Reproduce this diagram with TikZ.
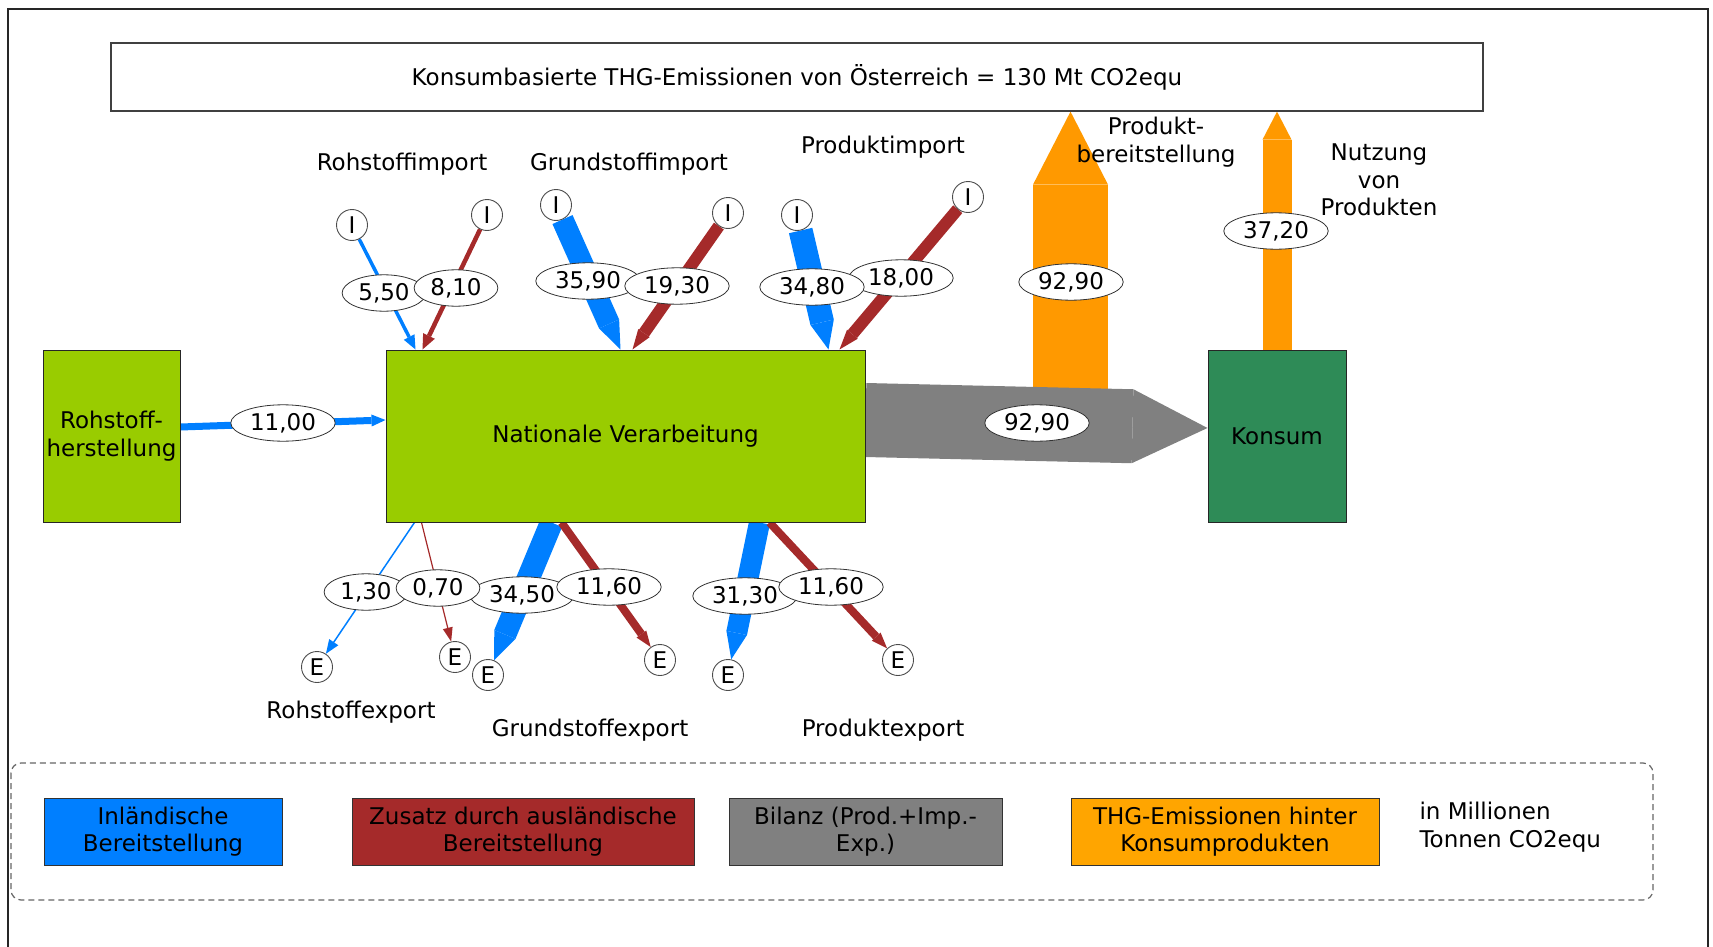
\documentclass[tikz,border=0pt]{standalone}
\usepackage{fontspec}
\setmainfont{DejaVu Sans}
\usetikzlibrary{arrows.meta,shapes.geometric,calc}

\definecolor{inland}{HTML}{007FFF}
\definecolor{ausland}{HTML}{A52A2A}
\definecolor{bilanz}{HTML}{808080}
\definecolor{thg}{HTML}{FF9900}
\definecolor{thglegend}{HTML}{FFA500}
\definecolor{verarb}{HTML}{99CC00}
\definecolor{konsumgr}{HTML}{2E8B57}

\pgfdeclarelayer{flows}
\pgfsetlayers{flows,main}

\tikzset{
  box/.style={draw=black!85, line width=1pt, minimum height=172pt, align=center},
  val/.style={ellipse, draw=black!80, line width=0.8pt, fill=white,
              inner xsep=4pt, inner ysep=3pt},
  port/.style={circle, draw=black!70, line width=0.9pt, fill=white,
               minimum size=31pt, inner sep=0pt},
  lbl/.style={align=center},
  legbox/.style={draw=black!80, line width=1pt, minimum height=67pt, align=center},
  pencil/.style={-{Triangle[length=#1, width=0pt 1, line width=0pt]}},
  head/.style 2 args={-{Triangle[length=#1, width=#2, line width=0pt]}},
}

\begin{document}
\begin{tikzpicture}[x=1pt, y=-1pt, font=\fontsize{23}{27.6}\selectfont, line cap=butt]
\useasboundingbox (0,0) rectangle (1713,947);

% outer frame (open at the bottom)
\draw[line width=1.5pt, black!85] (8,947) -- (8,9) -- (1708,9) -- (1708,947);

% headline
\node[draw=black!75, line width=1.2pt, minimum width=1372pt, minimum height=68pt]
  (title) at (797,77) {Konsumbasierte THG-Emissionen von Österreich = 130 Mt CO2equ};

% process boxes
\node[box, fill=verarb, minimum width=137pt] (RH) at (111.5,436) {Rohstoff-\\herstellung};
\node[box, fill=verarb, minimum width=479pt] (NV) at (625.5,436) {Nationale Verarbeitung};
\node[box, fill=konsumgr, minimum width=138pt] (KO) at (1277,436) {Konsum};

% import and export ports
\node[port] (i1) at (352,225) {I};
\node[port] (i2) at (487,215) {I};
\node[port] (i3) at (556,205) {I};
\node[port] (i4) at (728,213) {I};
\node[port] (i5) at (797,215) {I};
\node[port] (i6) at (968,197) {I};

\node[port] (e1) at (317,667) {E};
\node[port] (e2) at (455,657) {E};
\node[port] (e3) at (488,675) {E};
\node[port] (e4) at (660,660) {E};
\node[port] (e5) at (728,675) {E};
\node[port] (e6) at (898,660) {E};

\begin{pgfonlayer}{flows}
  % emissions behind consumer products
  \coordinate (pb) at (1070.5,425);
  \draw[thg, line width=75pt, pencil=73pt] (pb) -- (pb |- title.south);
  \draw[thg, line width=29pt, pencil=28pt] (KO.north) -- (KO.north |- title.south);
  % balance
  \draw[bilanz, line width=74pt, pencil=75pt] ($(NV.east)+(0,-16)$) -- ($(KO.west)+(0,-8)$);
  % raw material production
  \draw[inland, line width=7pt, head={14pt}{12pt}] ($(RH.east)+(0,-9)$) -- ($(NV.west)+(0,-16)$);
  % imports
  \draw[inland, line width=3.5pt, head={14pt}{12pt}] (i1) -- ($(NV.north west)+(30,0)$);
  \draw[ausland, line width=4.5pt, head={15pt}{13pt}] (i2) -- ($(NV.north west)+(37,0)$);
  \draw[inland, line width=22pt, pencil=28pt] (i3) -- ($(NV.north west)+(235,0)$);
  \draw[ausland, line width=12pt, head={20pt}{14pt}] (i4) -- ($(NV.north west)+(247,0)$);
  \draw[inland, line width=24pt, pencil=28pt] (i5) -- ($(NV.north west)+(443,0)$);
  \draw[ausland, line width=12pt, head={20pt}{14pt}] (i6) -- ($(NV.north west)+(454,0)$);
  % exports
  \draw[inland, line width=1.5pt, head={14pt}{11pt}] ($(NV.south west)+(29,0)$) -- (e1);
  \draw[ausland, line width=1.2pt, head={14pt}{10pt}] ($(NV.south west)+(36,0)$) -- (e2);
  \draw[inland, line width=23pt, pencil=28pt] ($(NV.south west)+(166,0)$) -- (e3);
  \draw[ausland, line width=8pt, head={16pt}{12pt}] ($(NV.south west)+(176,0)$) -- (e4);
  \draw[inland, line width=21pt, pencil=27pt] ($(NV.south west)+(374,0)$) -- (e5);
  \draw[ausland, line width=8pt, head={16pt}{12pt}] ($(NV.south west)+(384,0)$) -- (e6);
\end{pgfonlayer}

% flow values
\node[val] (v1100) at (283,423) {11,00};
\node[val] (v550) at (384,293) {5,50};
\node[val] (v810) at (456,288) {8,10};
\node[val] (v3590) at (588,281) {35,90};
\node[val] (v1930) at (677,286) {19,30};
\node[val] (v1800) at (901,278) {18,00};
\node[val] (v3480) at (812,287) {34,80};
\node[val] (v9290a) at (1071,282) {92,90};
\node[val] (v9290b) at (1037,423) {92,90};
\node[val] (v3720) at (1276,231) {37,20};
\node[val] (v130) at (366,592) {1,30};
\node[val] (v3450) at (522,595) {34,50};
\node[val] (v070) at (438,588) {0,70};
\node[val] (v1160a) at (609,587) {11,60};
\node[val] (v3130) at (745,596) {31,30};
\node[val] (v1160b) at (831,587) {11,60};

% flow names
\node[lbl] (rimp) at (402,164) {Rohstoffimport};
\node[lbl] (gimp) at (629,164) {Grundstoffimport};
\node[lbl] (pimp) at (883,147) {Produktimport};
\node[lbl] (pber) at (1156,142) {Produkt-\\bereitstellung};
\node[lbl] (nutz) at (1379,180) {Nutzung\\von\\Produkten};
\node[lbl] (rexp) at (351,712) {Rohstoffexport};
\node[lbl] (gexp) at (590,730) {Grundstoffexport};
\node[lbl] (pexp) at (883,730) {Produktexport};

% legend
\draw[black!60, line width=1.2pt, dash pattern=on 6pt off 4pt, rounded corners=10pt]
  (11,763) rectangle (1653,900);
\node[legbox, fill=inland, minimum width=238pt] (lg1) at (163,831.5) {Inländische\\Bereitstellung};
\node[legbox, fill=ausland, minimum width=342pt] (lg2) at (523,831.5) {Zusatz durch ausländische\\Bereitstellung};
\node[legbox, fill=bilanz, minimum width=273pt] (lg3) at (865.5,831.5) {Bilanz (Prod.+Imp.-\\Exp.)};
\node[legbox, fill=thglegend, minimum width=308pt] (lg4) at (1225,831.5) {THG-Emissionen hinter\\Konsumprodukten};
\node[anchor=west, align=left] (unit) at (1416,827) {in Millionen\\Tonnen CO2equ};
\end{tikzpicture}
\end{document}
